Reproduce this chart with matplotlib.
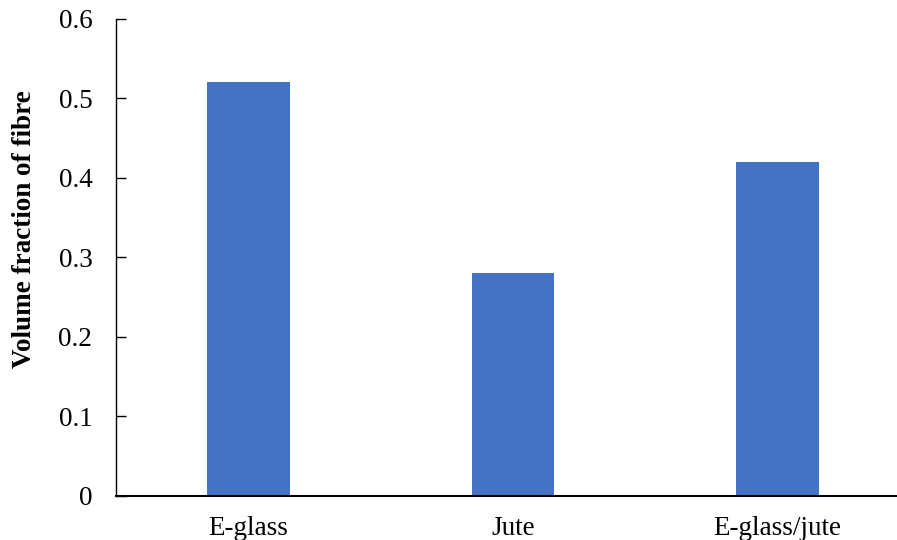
import numpy as np
import matplotlib
matplotlib.use("Agg")
import matplotlib.pyplot as plt

plt.rcParams['font.family'] = ['Liberation Serif', 'DejaVu Serif']

categories = ["E-glass", "Jute", "E-glass/jute"]
values = [0.52, 0.28, 0.42]
yticks = [0, 0.1, 0.2, 0.3, 0.4, 0.5, 0.6]
ytick_labels = ["0", "0.1", "0.2", "0.3", "0.4", "0.5", "0.6"]

fig = plt.figure(figsize=(8.97, 5.40), dpi=100)
ax = fig.add_axes([0.1293, 0.0824, 0.885, 0.8833])

x = np.arange(len(categories))
ax.bar(x, values, width=0.3125, color="#4472C4")

ax.set_xlim(-0.5, 2.5)
ax.set_ylim(0, 0.6)
ax.set_xticks(x)
ax.set_xticklabels(categories, fontsize=19.5)
ax.set_yticks(yticks)
ax.set_yticklabels(ytick_labels, fontsize=19.5)
ax.tick_params(axis='x', length=0, pad=15)
ax.tick_params(axis='y', direction='in', length=7, width=1, pad=17)

ax.spines['top'].set_visible(False)
ax.spines['right'].set_visible(False)
ax.spines['bottom'].set_linewidth(1.5)
ax.spines['left'].set_linewidth(1)

# etiqueta del eje y, algo por encima del centro como en el original
ax.set_ylabel("Volume fraction of fibre", fontsize=19.5, fontweight='bold')
ax.yaxis.set_label_coords(-0.0997, 0.5577)

fig.savefig("out.png", dpi=100)
